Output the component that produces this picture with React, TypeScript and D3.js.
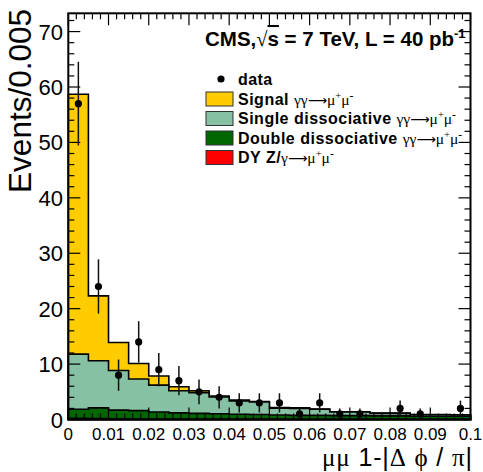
import * as d3 from 'd3';

// bins of 1-|dphi/pi|, width 0.005
const binLow = [0, 0.005, 0.01, 0.015, 0.02, 0.025, 0.03, 0.035, 0.04, 0.045, 0.05, 0.055, 0.06, 0.065, 0.07, 0.075, 0.08, 0.085, 0.09, 0.095];
const binWidth = 0.005;

// MC components (events / bin)
const dyZ = [0.2, 0.15, 0.12, 0.1, 0.08, 0.06, 0.05, 0.05, 0.04, 0.04, 0.03, 0.03, 0.03, 0.03, 0.03, 0.03, 0.03, 0.03, 0.03, 0.03];
const doubleDiss = [1.65, 1.95, 1.58, 1.5, 1.27, 1.14, 1.05, 1.0, 0.91, 0.86, 0.77, 0.72, 0.72, 0.67, 0.67, 0.62, 0.62, 0.57, 0.57, 0.57];
const singleDiss = [9.95, 8.5, 7.15, 5.7, 4.85, 4.0, 3.75, 3.0, 2.4, 2.25, 1.25, 1.25, 1.1, 0.65, 0.65, 0.45, 0.45, 0.25, 0.25, 0.2];
const signal = [46.9, 11.7, 5.05, 2.8, 1.65, 0.7, 0.35, 0.2, 0.15, 0.1, 0.1, 0.1, 0.05, 0.05, 0.05, 0.05, 0.05, 0.05, 0.05, 0.05];

// observed counts
const dataCounts = [57, 24, 8, 14, 9, 7, 5, 4, 3, 3, 3, 1, 3, 1, 1, 0, 2, 1, 0, 2];

const xTicks = [0, 0.01, 0.02, 0.03, 0.04, 0.05, 0.06, 0.07, 0.08, 0.09, 0.1];
const xTickLabels = ['0', '0.01', '0.02', '0.03', '0.04', '0.05', '0.06', '0.07', '0.08', '0.09', '0.1'];
const yTicks = [0, 10, 20, 30, 40, 50, 60, 70];

const keys = ['dy', 'double', 'single', 'signal'];
const colors: Record<string, string> = {
  dy: '#ff0000',
  double: '#006600',
  single: '#86c1a3',
  signal: '#ffcc00',
};

const legendItems = [
  { key: 'signal', label: 'Signal ', proc: 'γγ' },
  { key: 'single', label: 'Single dissociative ', proc: 'γγ' },
  { key: 'double', label: 'Double dissociative ', proc: 'γγ' },
  { key: 'dy', label: 'DY Z/', proc: 'γ' },
];

const sans = '"Liberation Sans", Arial, Helvetica, sans-serif';
const serif = '"Liberation Serif", "Times New Roman", serif';

export default function App() {
  const W = 483;
  const H = 472;
  const x = d3.scaleLinear().domain([0, 0.1]).range([68.3, 470.5]);
  const y = d3.scaleLinear().domain([0, 73.3]).range([419.5, 13.3]);
  const [x0, x1] = x.range();
  const [y0, y1] = y.range();

  const rows = binLow.map((lo, i) => ({
    lo,
    dy: dyZ[i],
    double: doubleDiss[i],
    single: singleDiss[i],
    signal: signal[i],
  }));
  const stacked = d3.stack<any>().keys(keys)(rows);

  // step outline of a cumulative histogram, dropping to zero at both ends
  const stepPath = (tops: number[]) => {
    const pts: [number, number][] = [[x(binLow[0]), y(0)]];
    tops.forEach((t, i) => {
      pts.push([x(binLow[i]), y(t)]);
      pts.push([x(binLow[i] + binWidth), y(t)]);
    });
    pts.push([x(binLow[binLow.length - 1] + binWidth), y(0)]);
    return d3.line()(pts) as string;
  };

  const xMinor = d3.range(0, 0.1001, 0.002);
  const yMinor = d3.range(0, 73, 2);

  const greek = { fontFamily: serif, fontWeight: 'normal' as const, letterSpacing: 0 };

  return (
    <svg
      width={W}
      height={H}
      style={{ position: 'absolute', left: 0, top: 0, background: '#fff' }}
      fontFamily={sans}
    >
      {/* stacked histograms, drawn from the top layer down */}
      {stacked
        .slice()
        .reverse()
        .map((layer) => {
          const tops = layer.map((d) => d[1]);
          return (
            <path
              key={layer.key}
              d={stepPath(tops) + 'Z'}
              fill={colors[layer.key]}
              stroke="#000"
              strokeWidth={1.6}
            />
          );
        })}

      {/* data points with sqrt(N) errors */}
      {dataCounts.map((n, i) => {
        if (n <= 0) return null;
        const cx = x(binLow[i] + binWidth / 2);
        const err = Math.sqrt(n);
        return (
          <g key={i}>
            <line x1={cx} x2={cx} y1={y(n + err)} y2={y(Math.max(0, n - err))} stroke="#111" strokeWidth={1.5} />
            <circle cx={cx} cy={y(n)} r={3.6} fill="#000" />
          </g>
        );
      })}

      {/* frame */}
      <rect x={x0} y={y1} width={x1 - x0} height={y0 - y1} fill="none" stroke="#000" strokeWidth={2} />

      {/* x ticks, bottom and top */}
      {xMinor.map((v, i) => {
        const major = i % 5 === 0;
        const len = major ? 12 : 6;
        return (
          <g key={'xt' + i} stroke="#000" strokeWidth={1.2}>
            <line x1={x(v)} x2={x(v)} y1={y0} y2={y0 - len} />
            <line x1={x(v)} x2={x(v)} y1={y1} y2={y1 + len} />
          </g>
        );
      })}
      {/* y ticks, left and right */}
      {yMinor.map((v, i) => {
        const major = i % 5 === 0;
        const len = major ? 12 : 6;
        return (
          <g key={'yt' + i} stroke="#000" strokeWidth={1.2}>
            <line x1={x0} x2={x0 + len} y1={y(v)} y2={y(v)} />
            <line x1={x1} x2={x1 - len} y1={y(v)} y2={y(v)} />
          </g>
        );
      })}

      {/* tick labels */}
      {xTicks.map((v, i) => (
        <text key={'xl' + i} x={x(v)} y={440} fontSize={17} textAnchor="middle" fill="#000">
          {xTickLabels[i]}
        </text>
      ))}
      {yTicks.map((v) => (
        <text key={'yl' + v} x={63} y={y(v) + 8} fontSize={22} textAnchor="end" fill="#000">
          {v}
        </text>
      ))}

      {/* axis titles */}
      <text transform={`translate(31,9) rotate(-90)`} fontSize={31.5} textAnchor="end" fill="#000">
        Events/0.005
      </text>
      <text x={322} y={466} fontSize={25} fill="#000" textLength={150} lengthAdjust="spacing">
        <tspan fontFamily={serif}>μμ</tspan> 1-|<tspan fontFamily={serif}>Δ</tspan>{' '}
        <tspan fontFamily={serif}>ϕ</tspan> / <tspan fontFamily={serif}>π</tspan>|
      </text>

      {/* header */}
      <text x={205} y={46} fontSize={20.5} fontWeight="bold" fill="#000">
        CMS,<tspan fontWeight="normal" fontFamily={serif}>√</tspan>
        <tspan style={{ textDecoration: 'overline' }}>s</tspan> = 7 TeV, L = 40 pb
        <tspan dy={-8} fontSize={13}>-1</tspan>
      </text>

      {/* legend */}
      <g>
        <circle cx={221} cy={79} r={3.6} fill="#000" />
        <text x={238} y={84.5} fontSize={16} fontWeight="bold" letterSpacing={0.4} fill="#000">
          data
        </text>
        {legendItems.map((it, i) => {
          const cy = 99 + i * 19.5;
          return (
            <g key={it.key}>
              <rect x={206} y={cy - 7} width={27} height={14} fill={colors[it.key]} stroke="#333" strokeWidth={1} />
              <text x={238} y={cy + 5.5} fontSize={16} fontWeight="bold" letterSpacing={0.5} fill="#000">
                {it.label}
                <tspan {...greek} fontSize={15.5}>{it.proc}</tspan>
                <tspan fontFamily='"DejaVu Sans", sans-serif' fontWeight="normal" letterSpacing={0} fontSize={13.5}>⟶</tspan>
                <tspan {...greek} fontSize={15.5}>μ</tspan>
                <tspan {...greek} fontSize={10.5} dy={-6}>+</tspan>
                <tspan {...greek} fontSize={15.5} dy={6}>μ</tspan>
                <tspan {...greek} fontSize={11.5} dy={-6}>-</tspan>
              </text>
            </g>
          );
        })}
      </g>
    </svg>
  );
}
